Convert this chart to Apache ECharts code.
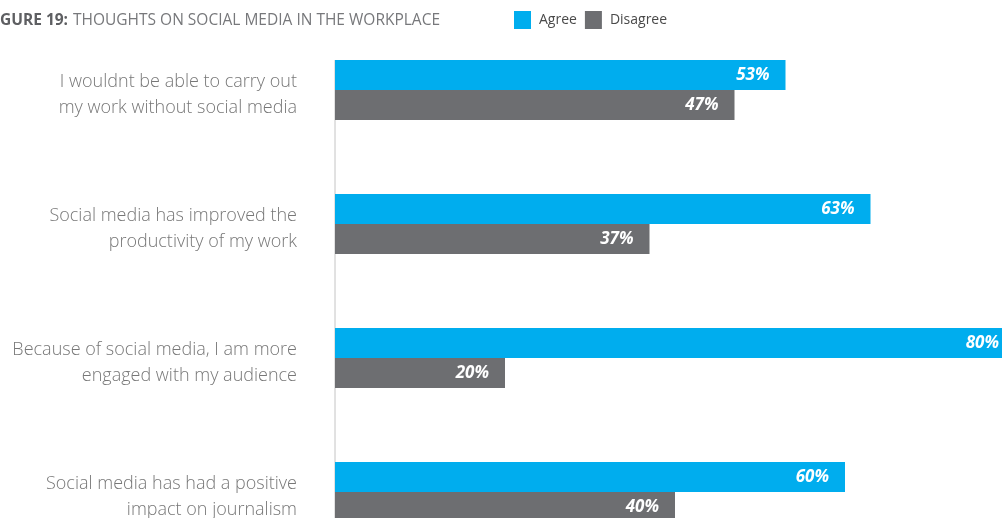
<!DOCTYPE html>
<html>
<head>
<meta charset="utf-8">
<title>Thoughts on social media in the workplace</title>
<script src="https://cdn.jsdelivr.net/npm/echarts@6/dist/echarts.min.js"></script>
<style>
  html, body { margin: 0; padding: 0; background: #ffffff; }
  #chart { width: 1002px; height: 518px; overflow: hidden; }
</style>
</head>
<body>
<div id="chart"></div>
<script>
// Survey statements, top to bottom
const categories = [
  'I wouldnt be able to carry out\nmy work without social media',
  'Social media has improved the\nproductivity of my work',
  'Because of social media, I am more\nengaged with my audience',
  'Social media has had a positive\nimpact on journalism'
];
// Share of respondents (%)
const agree = [53, 63, 80, 60];
const disagree = [47, 37, 20, 40];

const BLUE = '#00adee';
const GREY = '#6d6e71';

// Layout: the value scale runs 0–100 over 850px, wider than the page,
// so the longest bar runs off the right edge.
const gridLeft = 335, gridWidth = 850;
const gridTop = 23, bandPx = 134;
const gridHeight = bandPx * categories.length;
const barH = 30;

// Vertical baseline starts at the top of the first bar
const baseTop = 0.5 - barH / bandPx;

const chart = echarts.init(document.getElementById('chart'), null, { renderer: 'canvas' });

const valueLabel = {
  show: true,
  position: 'insideRight',
  distance: 16,
  formatter: '{c}%',
  color: '#ffffff',
  fontFamily: 'Open Sans',
  fontStyle: 'italic',
  fontWeight: 'bold',
  fontSize: 17
};

const labelText = {
  fontFamily: 'Open Sans',
  fontWeight: 300,
  fontSize: 18,
  lineHeight: 26,
  color: '#777777',
  align: 'right'
};

chart.setOption({
  animation: false,
  backgroundColor: '#ffffff',
  title: {
    left: 0,
    top: 12,
    padding: 0,
    text: '{b|GURE 19:} {r|THOUGHTS ON SOCIAL MEDIA IN THE WORKPLACE}',
    textStyle: {
      rich: {
        b: { fontFamily: 'Open Sans', fontWeight: 'bold', fontSize: 15.5, color: '#5e5f62' },
        r: { fontFamily: 'Open Sans', fontWeight: 'normal', fontSize: 15.5, color: '#77787b' }
      }
    }
  },
  legend: {
    left: 514,
    top: 11,
    padding: 0,
    itemWidth: 17,
    itemHeight: 18,
    itemGap: 8,
    icon: 'rect',
    textStyle: { fontFamily: 'Open Sans', fontSize: 14, color: '#4a4a4a', padding: [3, 0, 0, 3] },
    data: ['Agree', 'Disagree']
  },
  grid: {
    left: gridLeft,
    top: gridTop,
    width: gridWidth,
    height: gridHeight,
    containLabel: false,
    outerBoundsMode: 'none'
  },
  xAxis: {
    type: 'value',
    min: 0,
    max: 100,
    show: false
  },
  yAxis: [
    {
      type: 'category',
      inverse: true,
      data: categories,
      axisLine: { show: false },
      axisTick: { show: false },
      axisLabel: {
        margin: 38,
        align: 'right',
        // a thin spacer line on top nudges the two text lines down a little
        formatter: v => '{s| }\n' + v.split('\n').map(line => '{t|' + line + '}').join('\n'),
        rich: {
          s: { fontSize: 1, lineHeight: 10, align: 'right' },
          t: labelText
        }
      }
    },
    {
      type: 'value',
      min: 0,
      max: categories.length,
      inverse: true,
      show: false
    }
  ],
  series: [
    {
      name: 'Agree',
      type: 'bar',
      data: agree,
      barWidth: barH,
      barGap: '0%',
      itemStyle: { color: BLUE },
      label: valueLabel,
      z: 3
    },
    {
      name: 'Disagree',
      type: 'bar',
      data: disagree,
      barWidth: barH,
      barGap: '0%',
      itemStyle: { color: GREY },
      label: valueLabel,
      z: 3
    },
    {
      // baseline along the left edge of the bars
      name: 'baseline',
      type: 'line',
      xAxisIndex: 0,
      yAxisIndex: 1,
      data: [[0, baseTop], [0, categories.length]],
      symbol: 'none',
      silent: true,
      lineStyle: { color: '#c4c4c4', width: 1 },
      z: 1
    }
  ]
});
</script>
</body>
</html>
